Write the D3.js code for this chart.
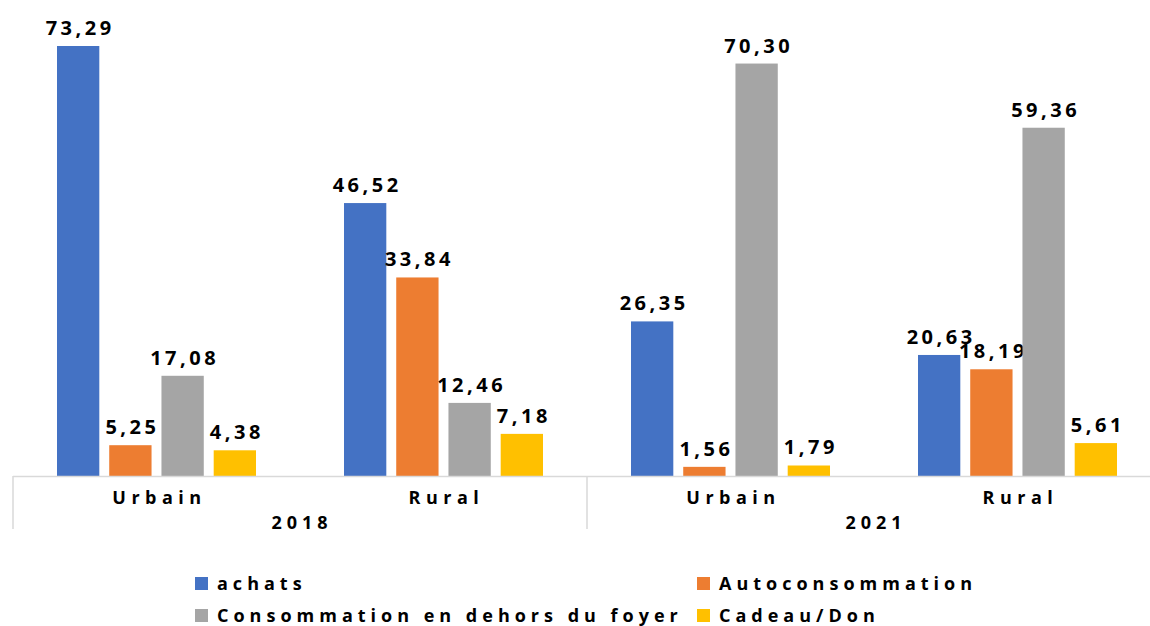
<!DOCTYPE html>
<html>
<head>
<meta charset="utf-8">
<script src="https://cdn.jsdelivr.net/npm/d3@7"></script>
<style>
  body { margin: 0; background: #fff; }
  text { font-family: "Open Sans", sans-serif; font-weight: bold; fill: #000; }
</style>
</head>
<body>
<svg id="canvas" width="1150" height="626"></svg>
<script>
// categories and series
var years = ["2018", "2021"];
var zones = ["Urbain", "Rural"];
var series = ["achats", "Autoconsommation", "Consommation en dehors du foyer", "Cadeau/Don"];
var colors = ["#4472C4", "#ED7D31", "#A5A5A5", "#FFC000"];

// values per series, in the order 2018 Urbain, 2018 Rural, 2021 Urbain, 2021 Rural
var achats = [73.29, 46.52, 26.35, 20.63];
var autoconsommation = [5.25, 33.84, 1.56, 18.19];
var horsFoyer = [17.08, 12.46, 70.30, 59.36];
var cadeau = [4.38, 7.18, 1.79, 5.61];

var values = [achats, autoconsommation, horsFoyer, cadeau];

var groups = [];
years.forEach(function(y) {
  zones.forEach(function(z) { groups.push({ year: y, zone: z, key: y + "-" + z }); });
});

var svg = d3.select("#canvas");
var left = 13, right = 1161, base = 476;

var x0 = d3.scaleBand()
  .domain(groups.map(function(d) { return d.key; }))
  .range([left, right]);

var xYear = d3.scaleBand().domain(years).range([left, right]);

var x1 = d3.scaleBand()
  .domain(series)
  .range([44, x0.bandwidth() - 44])
  .paddingInner(0.19);

var y = d3.scaleLinear().domain([0, 80]).range([base, base - 80 * 5.867]);

var fmt = function(v) { return v.toFixed(2).replace(".", ","); };

// bars
var g = svg.append("g");
groups.forEach(function(grp, gi) {
  var gg = g.append("g").attr("transform", "translate(" + x0(grp.key) + ",0)");
  series.forEach(function(s, si) {
    var v = values[si][gi];
    gg.append("rect")
      .attr("x", x1(s))
      .attr("y", y(v))
      .attr("width", x1.bandwidth())
      .attr("height", y(0) - y(v))
      .attr("fill", colors[si]);
    gg.append("text")
      .attr("x", x1(s) + x1.bandwidth() / 2 + 2)
      .attr("y", y(v) - 11)
      .attr("text-anchor", "middle")
      .style("font-size", "20px")
      .style("letter-spacing", "3.5px")
      .text(fmt(v));
  });
});

// axis
var axis = svg.append("g").attr("stroke", "#d9d9d9").attr("stroke-width", 1.5);
axis.append("line").attr("x1", left).attr("x2", right).attr("y1", base + 0.5).attr("y2", base + 0.5);
years.forEach(function(yr) {
  axis.append("line")
    .attr("x1", xYear(yr)).attr("x2", xYear(yr))
    .attr("y1", base).attr("y2", 529);
});

groups.forEach(function(grp) {
  svg.append("text")
    .attr("x", x0(grp.key) + x0.bandwidth() / 2 + 3)
    .attr("y", 504)
    .attr("text-anchor", "middle")
    .style("font-size", "18px")
    .style("letter-spacing", "5.5px")
    .text(grp.zone);
});

years.forEach(function(yr) {
  svg.append("text")
    .attr("x", xYear(yr) + xYear.bandwidth() / 2 + 2)
    .attr("y", 529)
    .attr("text-anchor", "middle")
    .style("font-size", "18px")
    .style("letter-spacing", "5px")
    .text(yr);
});

// legend
var legendPos = [[195, 583], [697, 583], [195, 615], [697, 615]];
series.forEach(function(s, i) {
  var lg = svg.append("g").attr("transform", "translate(" + legendPos[i][0] + "," + legendPos[i][1] + ")");
  lg.append("rect").attr("x", 0).attr("y", -6).attr("width", 13).attr("height", 13).attr("fill", colors[i]);
  lg.append("text")
    .attr("x", 22)
    .attr("y", 7)
    .style("font-size", "18px")
    .style("letter-spacing", "5px")
    .text(s);
});
</script>
</body>
</html>
